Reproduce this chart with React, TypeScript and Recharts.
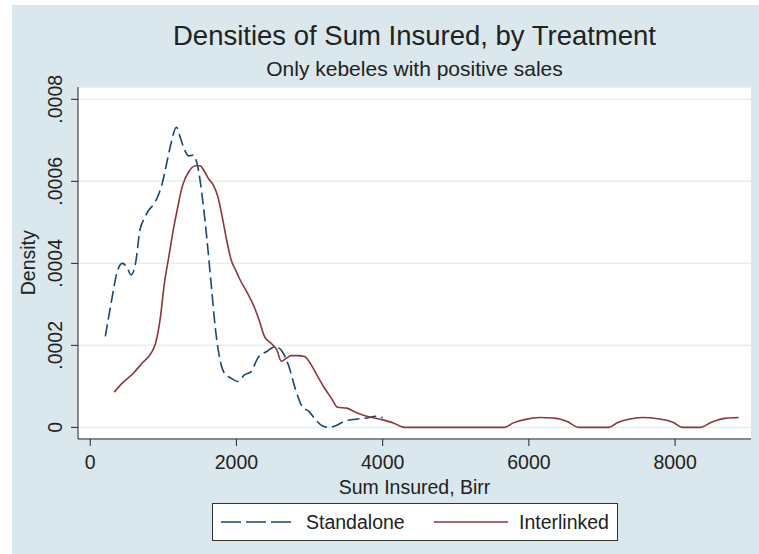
import React from "react";
import { LineChart, Line, XAxis, YAxis, CartesianGrid } from "recharts";

const standaloneX = [
  207, 286, 377, 438, 498, 559, 620, 681, 742, 802, 863, 924, 985, 1046, 1106, 1179, 1228, 1289, 1350, 1410,
  1471, 1532, 1593, 1653, 1714, 1775, 1836, 1927, 2018, 2109, 2201, 2292, 2413, 2535, 2626, 2717, 2809, 2900,
  2991, 3082, 3173, 3264, 3356, 3477, 3629, 3781, 3903, 4000,
];
const standaloneDensity = [
  0.000222, 0.000303, 0.000384, 0.0004, 0.000392, 0.000372, 0.0004, 0.000482, 0.00051, 0.00053, 0.000543,
  0.000563, 0.000595, 0.000644, 0.000693, 0.000732, 0.000709, 0.000677, 0.000662, 0.000664, 0.000636, 0.000563,
  0.000465, 0.000352, 0.000238, 0.000165, 0.000132, 0.00012, 0.000112, 0.000128, 0.000136, 0.000169, 0.000185,
  0.000197, 0.000185, 0.000149, 0.000092, 0.000051, 0.000039, 0.000019, 0.000004, 0, 0.000004, 0.000015,
  0.00002, 0.000023, 0.000027, 0.000024,
];

const interlinkedX = [
  328, 438, 590, 711, 833, 894, 955, 1015, 1076, 1137, 1198, 1258, 1350, 1441, 1502, 1562, 1623, 1684, 1745,
  1805, 1866, 1927, 1988, 2049, 2140, 2231, 2310, 2383, 2474, 2553, 2614, 2687, 2748, 2839, 2930, 3021, 3112,
  3204, 3295, 3386, 3508, 3629, 3781, 3964, 4146, 4298, 5666, 5787, 5939, 6152, 6334, 6517, 6687, 7094, 7216,
  7368, 7550, 7763, 7976, 8097, 8340, 8492, 8675, 8869,
];
const interlinkedDensity = [
  0.000086, 0.000108, 0.000132, 0.000157, 0.000181, 0.000205, 0.000262, 0.000352, 0.000417, 0.000482, 0.000538,
  0.000587, 0.000624, 0.000638, 0.000638, 0.000624, 0.000605, 0.000591, 0.000563, 0.000514, 0.000457, 0.000409,
  0.000384, 0.00036, 0.000331, 0.000299, 0.000262, 0.000222, 0.000205, 0.000189, 0.000161, 0.000169, 0.000175,
  0.000175, 0.000173, 0.000153, 0.000124, 0.000096, 0.000072, 0.000049, 0.000047, 0.000037, 0.000027, 0.00002,
  0.000011, 0, 0, 0.000011, 0.000019, 0.000024, 0.000023, 0.000015, 0, 0, 0.000012, 0.00002, 0.000024,
  0.000021, 0.000012, 0, 0, 0.000012, 0.000022, 0.000024,
];

const xTicks = [0, 2000, 4000, 6000, 8000];
const yTicks = [0, 0.0002, 0.0004, 0.0006, 0.0008];

const NAVY = "#1a476f";
const MAROON = "#90353b";
const FONT = "'Liberation Sans', Arial, sans-serif";

const standalone = standaloneX.map((x, i) => ({ x, y: standaloneDensity[i] }));
const interlinked = interlinkedX.map((x, i) => ({ x, y: interlinkedDensity[i] }));

const fmtY = (v: number) => (v === 0 ? "0" : v.toFixed(4).replace(/^0/, ""));

function YTick(props: any) {
  const { x, y, payload } = props;
  return (
    <text
      x={x}
      y={y}
      transform={`rotate(-90, ${x}, ${y})`}
      textAnchor="middle"
      fontSize={19.5}
      fontFamily={FONT}
      fill="#222"
    >
      {fmtY(payload.value)}
    </text>
  );
}

function XTick(props: any) {
  const { x, y, payload } = props;
  return (
    <text x={x} y={y} dy="0.71em" textAnchor="middle" fontSize={19.5} fontFamily={FONT} fill="#222">
      {payload.value}
    </text>
  );
}

export default function App() {
  const txt: React.CSSProperties = {
    position: "absolute",
    fontFamily: FONT,
    color: "#222",
    lineHeight: 1,
    whiteSpace: "nowrap",
    textAlign: "center",
  };
  return (
    <div style={{ position: "absolute", left: 0, top: 0, width: 759, height: 554, background: "#fff" }}>
      <div style={{ position: "absolute", left: 12, top: 5, right: 0, bottom: 0, background: "#dae7ec" }} />
      <div style={{ position: "absolute", left: 0, top: 0 }}>
        <LineChart width={759} height={554} margin={{ top: 87, right: 8, bottom: 75, left: 18 }}>
          <CartesianGrid vertical={false} fill="#ffffff" stroke="#e4eef1" strokeWidth={1.5} />
          <XAxis
            dataKey="x"
            type="number"
            domain={[-167, 9038]}
            ticks={xTicks}
            allowDataOverflow
            height={40}
            tickSize={7}
            tickMargin={9}
            stroke="#222"
            tick={<XTick />}
          />
          <YAxis
            type="number"
            domain={[-0.0000283, 0.00083]}
            ticks={yTicks}
            allowDataOverflow
            width={60}
            tickSize={7}
            tickMargin={9}
            stroke="#222"
            tick={<YTick />}
          />
          <Line
            data={standalone}
            dataKey="y"
            type="monotone"
            stroke={NAVY}
            strokeWidth={1.6}
            strokeDasharray="12 5"
            dot={false}
            isAnimationActive={false}
          />
          <Line
            data={interlinked}
            dataKey="y"
            type="monotone"
            stroke={MAROON}
            strokeWidth={1.6}
            dot={false}
            isAnimationActive={false}
          />
        </LineChart>
      </div>
      <div style={{ ...txt, left: 114.5, width: 600, top: 21.5, fontSize: 27.5 }}>
        Densities of Sum Insured, by Treatment
      </div>
      <div style={{ ...txt, left: 114.5, width: 600, top: 57.5, fontSize: 21 }}>Only kebeles with positive sales</div>
      <div style={{ ...txt, left: 214.5, width: 400, top: 478, fontSize: 19.5 }}>Sum Insured, Birr</div>
      <div
        style={{
          ...txt,
          left: 29 - 100,
          width: 200,
          top: 263 - 9.75,
          fontSize: 19.5,
          transform: "rotate(-90deg)",
        }}
      >
        Density
      </div>
      <div
        style={{
          position: "absolute",
          left: 212,
          top: 503,
          width: 406,
          height: 38,
          boxSizing: "border-box",
          background: "#fff",
          border: "1px solid #333",
        }}
      >
        <svg width={404} height={36} style={{ position: "absolute", left: 0, top: 0 }}>
          <line x1={8} x2={80} y1={18} y2={18} stroke={NAVY} strokeWidth={1.6} strokeDasharray="20 5" />
          <line x1={221} x2={295} y1={18} y2={18} stroke={MAROON} strokeWidth={1.6} />
          <text x={93} y={18} dy="0.36em" fontSize={19.5} fontFamily={FONT} fill="#222">
            Standalone
          </text>
          <text x={306} y={18} dy="0.36em" fontSize={19.5} fontFamily={FONT} fill="#222">
            Interlinked
          </text>
        </svg>
      </div>
    </div>
  );
}
